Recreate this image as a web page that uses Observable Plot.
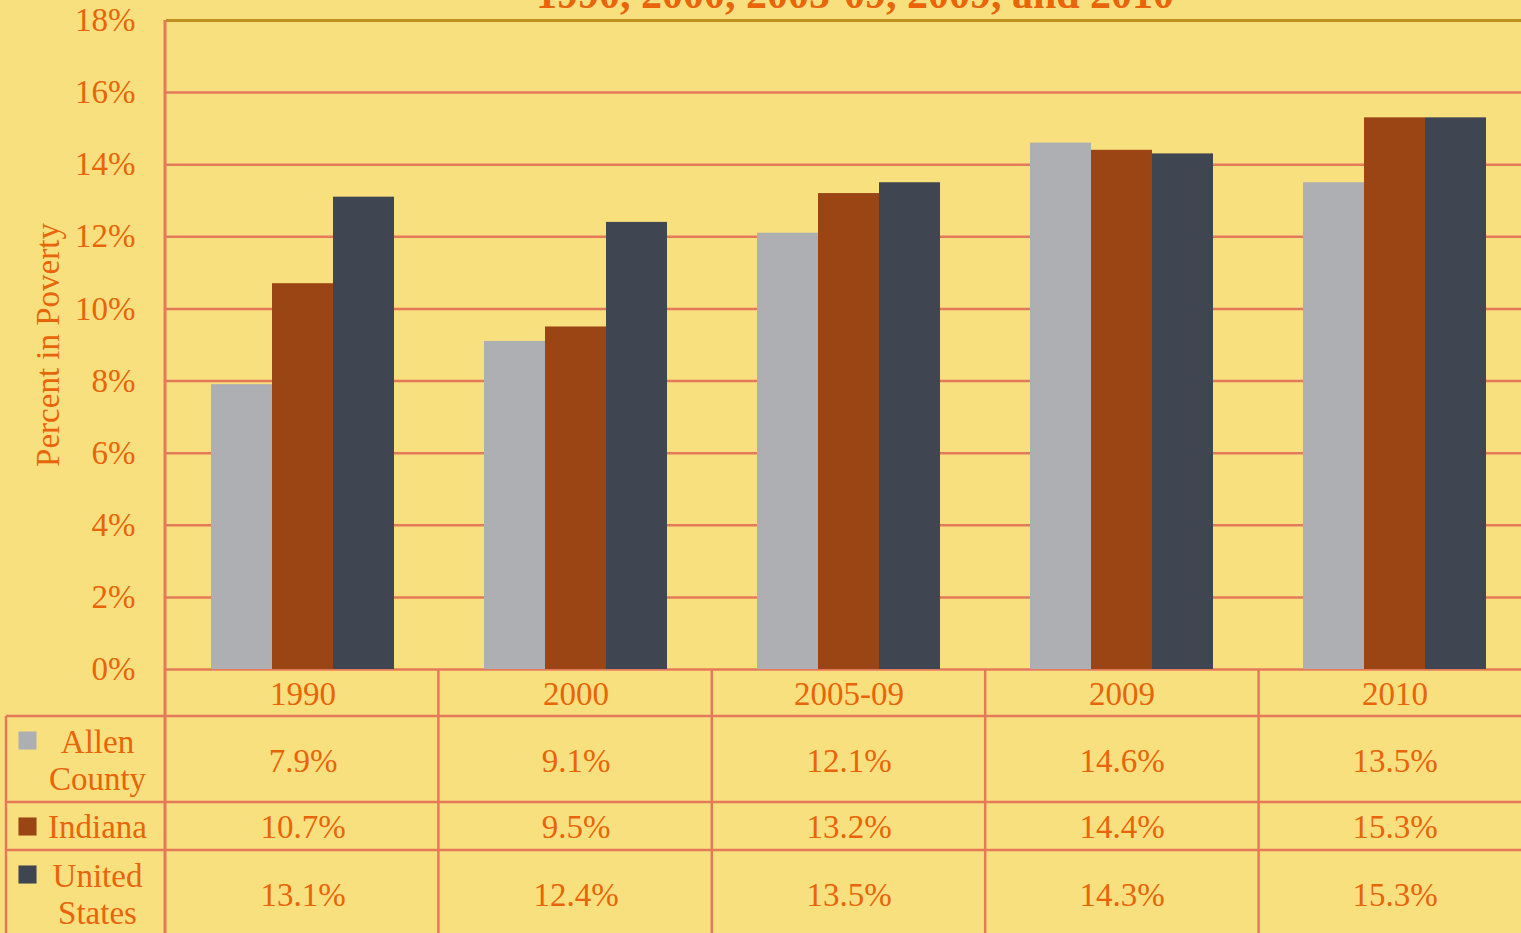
<!DOCTYPE html>
<html><head><meta charset="utf-8">
<script src="https://cdn.jsdelivr.net/npm/d3@7"></script>
<script src="https://cdn.jsdelivr.net/npm/@observablehq/plot@0.6"></script>
<style>
html,body{margin:0;padding:0;overflow:hidden;background:#F9E07F;width:1521px;height:933px}
#wrap{position:relative;width:1521px;height:933px;overflow:hidden}
#chart{position:absolute;left:0;top:0}
#title{position:absolute;left:165px;width:1380px;top:-27px;text-align:center;font:bold 42px "Liberation Serif";color:#E8650A;line-height:42px;white-space:nowrap;z-index:2}
</style></head><body><div id="wrap"><div id="chart"></div><div id="title">1990, 2000, 2005-09, 2009, and 2010</div></div>
<script>
const years = ["1990", "2000", "2005-09", "2009", "2010"];
const series = ["Allen County", "Indiana", "United States"];
const allen = [7.9, 9.1, 12.1, 14.6, 13.5];
const indiana = [10.7, 9.5, 13.2, 14.4, 15.3];
const us = [13.1, 12.4, 13.5, 14.3, 15.3];
const yTicks = [0, 2, 4, 6, 8, 10, 12, 14, 16, 18];
const legendLabels = ["Allen\nCounty", "Indiana", "United\nStates"];
const colors = ["#ADAFB3", "#9C4514", "#3F4651"];

const ORANGE = "#E8650A", GRID = "#E47A5A", GOLD = "#C08F1F";
const valuesBySeries = [allen, indiana, us];
const data = years.flatMap((yr, i) => series.map((s, k) => ({year: yr, series: s, value: valuesBySeries[k][i]})));

// layout offsets (pixels below the 0% baseline)
const rowTextDy = [92, 158, 226];
const legendTextDy = [90, 157, 224];
const legendBoxDy = [71, 157, 205];
const first = () => years[0];

const plot = Plot.plot({
  width: 1532, height: 933,
  marginLeft: 165, marginRight: 0, marginTop: 20, marginBottom: 264,
  style: {background: "transparent", color: ORANGE, fontFamily: "Liberation Serif", fontSize: "33px", maxWidth: "none", overflow: "visible"},
  fx: {domain: years, padding: 0, axis: null, label: null},
  x: {domain: series, paddingInner: 0, paddingOuter: 0.73, axis: null},
  y: {domain: [0, 18], ticks: yTicks, tickFormat: d => d + "%", tickSize: 0, tickPadding: 31, label: null},
  color: {domain: series, range: colors},
  marks: [
    Plot.ruleY(yTicks.filter(d => d < 18), {stroke: GRID, strokeWidth: 2.5}),
    Plot.barY(data, {fx: "year", x: "series", y: "value", fill: "series"}),
    Plot.ruleY([18], {stroke: GOLD, strokeWidth: 3}),
    Plot.text(years, {fx: d => d, text: d => d, frameAnchor: "bottom", lineAnchor: "middle", dy: 25, fill: ORANGE}),
    ...series.map((s, k) => Plot.text(data.filter(d => d.series === s), {
      fx: "year", text: d => d.value.toFixed(1) + "%", frameAnchor: "bottom", lineAnchor: "middle", dy: rowTextDy[k], fill: ORANGE
    })),
    Plot.text(["Percent in Poverty"], {fx: first, text: d => d, frameAnchor: "left", textAnchor: "middle", lineAnchor: "middle", dx: -118, rotate: -90, fill: ORANGE}),
    ...series.map((s, k) => Plot.text([legendLabels[k]], {
      fx: first, text: d => d, frameAnchor: "bottom-left", dx: -69, dy: legendTextDy[k], textAnchor: "middle", lineAnchor: "middle", lineHeight: 1.12, fill: ORANGE
    })),
    ...series.map((s, k) => Plot.dot([s], {
      fx: first, frameAnchor: "bottom-left", dx: -139, dy: legendBoxDy[k], symbol: "square", r: 10.2, fill: colors[k], stroke: "none"
    }))
  ]
});
document.getElementById("chart").append(plot);

// table grid
const svg = d3.select(plot);
const fxS = plot.scale("fx");
const [xa, xb] = fxS.range;
const step = (xb - xa) / years.length;
const y0 = plot.scale("y").range[0];
const yTop = plot.scale("y").range[1];
const H = 933;
const g = svg.append("g").attr("stroke", GRID).attr("stroke-width", 2.5);
[47, 133, 181].forEach(o => g.append("line").attr("x1", 6).attr("x2", xb).attr("y1", y0 + o).attr("y2", y0 + o));
g.append("line").attr("x1", 6).attr("x2", 6).attr("y1", y0 + 47).attr("y2", H);
for (let i = 1; i < years.length; i++) {
  const x = xa + i * step;
  g.append("line").attr("x1", x).attr("x2", x).attr("y1", y0).attr("y2", H);
}
g.append("line").attr("x1", xa).attr("x2", xa).attr("y1", yTop).attr("y2", H).attr("stroke-width", 3);
</script>
</body></html>
